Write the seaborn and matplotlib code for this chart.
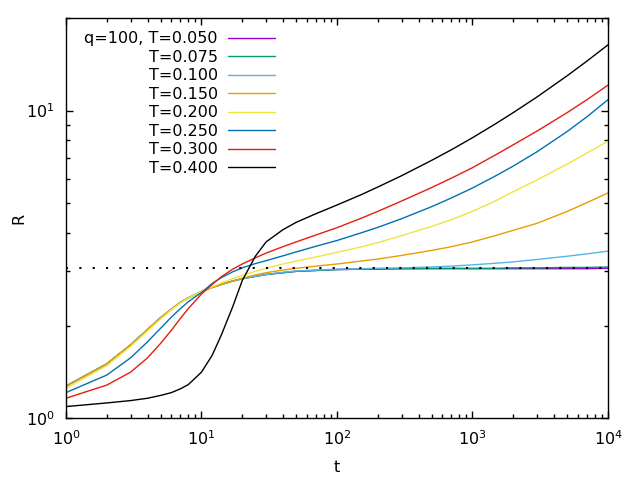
import matplotlib
matplotlib.use("Agg")

import numpy as np
import pandas as pd
import matplotlib.pyplot as plt
import matplotlib.ticker as mticker
import seaborn as sns

sns.set_style("ticks")
plt.rcParams["font.family"] = ["DejaVu Sans"]
plt.rcParams.update({"text.color": "black", "axes.labelcolor": "black",
                     "xtick.color": "black", "ytick.color": "black",
                     "axes.edgecolor": "black"})

# time grid (shared by all curves)
t = [1, 2, 3, 4, 5, 6, 7, 8, 10, 12, 14, 17, 20, 25, 30, 40, 50, 70, 100,
     150, 200, 300, 500, 700, 1000, 1500, 2000, 3000, 5000, 7000, 10000]

temps = ["0.050", "0.075", "0.100", "0.150", "0.200", "0.250", "0.300", "0.400"]
colors = ["#9400d3", "#009e73", "#56b4e9", "#e69f00", "#f0e442", "#0072b2", "#e51e10", "#000000"]

R_T050 = [1.27, 1.50, 1.73, 1.94, 2.12, 2.26, 2.38, 2.46, 2.58, 2.66, 2.72, 2.79, 2.84, 2.89, 2.93,
          2.97, 3.00, 3.02, 3.04, 3.05, 3.05, 3.06, 3.06, 3.06, 3.06, 3.06, 3.06, 3.06, 3.06, 3.06, 3.07]
R_T075 = [1.27, 1.50, 1.73, 1.94, 2.12, 2.26, 2.38, 2.46, 2.58, 2.66, 2.72, 2.79, 2.84, 2.89, 2.93,
          2.97, 3.00, 3.02, 3.04, 3.05, 3.06, 3.06, 3.07, 3.07, 3.07, 3.07, 3.08, 3.08, 3.09, 3.09, 3.10]
R_T100 = [1.27, 1.50, 1.73, 1.94, 2.12, 2.26, 2.38, 2.46, 2.58, 2.66, 2.72, 2.79, 2.84, 2.89, 2.93,
          2.98, 3.01, 3.03, 3.05, 3.06, 3.07, 3.08, 3.10, 3.12, 3.15, 3.19, 3.22, 3.28, 3.36, 3.42, 3.49]
R_T150 = [1.27, 1.50, 1.73, 1.94, 2.12, 2.26, 2.38, 2.46, 2.58, 2.66, 2.72, 2.79, 2.85, 2.92, 2.97,
          3.03, 3.07, 3.12, 3.17, 3.24, 3.29, 3.38, 3.51, 3.61, 3.74, 3.93, 4.08, 4.30, 4.70, 5.02, 5.40]
R_T200 = [1.25, 1.48, 1.71, 1.92, 2.10, 2.25, 2.37, 2.46, 2.58, 2.67, 2.75, 2.84, 2.91, 3.00, 3.07,
          3.17, 3.24, 3.34, 3.46, 3.60, 3.72, 3.92, 4.20, 4.42, 4.70, 5.10, 5.45, 5.95, 6.70, 7.28, 7.95]
R_T250 = [1.21, 1.38, 1.57, 1.77, 1.96, 2.13, 2.27, 2.39, 2.56, 2.74, 2.86, 2.99, 3.08, 3.18, 3.25,
          3.37, 3.47, 3.62, 3.78, 4.00, 4.17, 4.45, 4.87, 5.20, 5.60, 6.15, 6.60, 7.35, 8.55, 9.55, 10.85]
R_T300 = [1.16, 1.28, 1.41, 1.57, 1.75, 1.93, 2.11, 2.27, 2.53, 2.72, 2.88, 3.05, 3.17, 3.32, 3.44,
          3.61, 3.74, 3.94, 4.16, 4.46, 4.70, 5.08, 5.62, 6.03, 6.52, 7.20, 7.74, 8.58, 9.85, 10.85, 12.1]
R_T400 = [1.09, 1.12, 1.14, 1.16, 1.185, 1.21, 1.245, 1.285, 1.41, 1.60, 1.86, 2.30, 2.80, 3.36, 3.74,
          4.10, 4.33, 4.62, 4.93, 5.32, 5.64, 6.14, 6.89, 7.46, 8.16, 9.09, 9.85, 11.08, 12.98, 14.49, 16.36]

series = [R_T050, R_T075, R_T100, R_T150, R_T200, R_T250, R_T300, R_T400]

# saturation level (dotted reference line)
R_INF = 3.07

fig, ax = plt.subplots(figsize=(6.4, 4.8), dpi=100)
fig.subplots_adjust(left=0.103, right=0.95, top=0.9625, bottom=0.129)

for i, (T, vals, c) in enumerate(zip(temps, series, colors)):
    df = pd.DataFrame({"t": t, "R": vals})
    label = f"q=100, T={T}" if i == 0 else f"T={T}"
    sns.lineplot(data=df, x="t", y="R", ax=ax, color=c, lw=1.0,
                 label=label, estimator=None, sort=False)

ax.axhline(R_INF, color="black", lw=1.5, ls=(0, (1, 5.4)), zorder=5)

ax.set_xscale("log")
ax.set_yscale("log")
ax.set_xlim(1, 1e4)
ax.set_ylim(1, 20)
ax.yaxis.set_minor_formatter(mticker.NullFormatter())
ax.xaxis.set_minor_formatter(mticker.NullFormatter())

ax.set_xlabel("t", fontsize=11.5, labelpad=9)
ax.set_ylabel("R", fontsize=11.5, labelpad=0)
ax.tick_params(axis="both", which="both", direction="in", top=True, right=True, labelsize=11.5)
ax.tick_params(axis="both", which="major", length=5, width=1)
ax.tick_params(axis="both", which="minor", length=3, width=1)
ax.tick_params(axis="x", which="major", pad=8)
ax.tick_params(axis="y", which="major", pad=8)
for s in ax.spines.values():
    s.set_linewidth(1)

ax.legend(loc="upper right", bbox_to_anchor=(0.386, 0.967), frameon=False,
          markerfirst=False, fontsize=11.5, handlelength=2.95, handletextpad=0.63,
          labelspacing=0.22, borderpad=0, borderaxespad=0)

plt.savefig("out.png", dpi=100)
plt.close()
